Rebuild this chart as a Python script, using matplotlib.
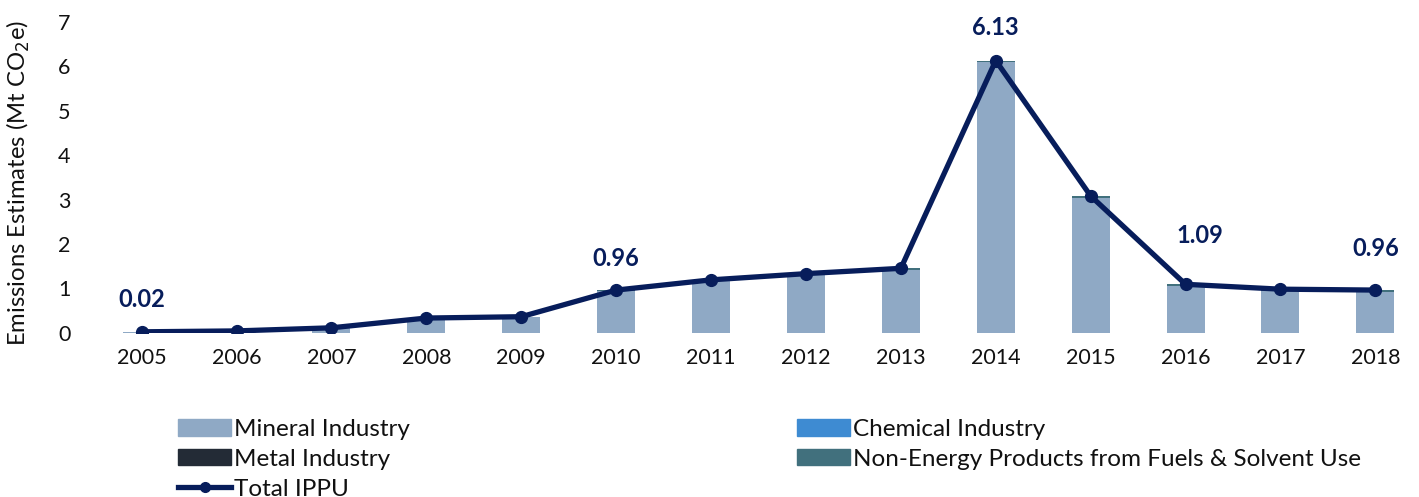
import matplotlib
matplotlib.use("Agg")
import matplotlib.pyplot as plt
from matplotlib.patches import Patch
from matplotlib.lines import Line2D

plt.rcParams['font.family'] = ['Lato', 'DejaVu Sans']

years = ['2005', '2006', '2007', '2008', '2009', '2010', '2011',
         '2012', '2013', '2014', '2015', '2016', '2017', '2018']
mineral = [0.02, 0.04, 0.10, 0.32, 0.35, 0.93, 1.16, 1.30, 1.41, 6.09, 3.04, 1.05, 0.95, 0.92]
chemical = [0.0] * 14
metal = [0.0] * 14
non_energy = [0.0, 0.0, 0.01, 0.01, 0.01, 0.03, 0.03, 0.03, 0.04, 0.04, 0.04, 0.04, 0.03, 0.04]
total_ippu = [0.02, 0.04, 0.11, 0.33, 0.36, 0.96, 1.19, 1.33, 1.45, 6.13, 3.08, 1.09, 0.98, 0.96]
labelled = ['2005', '2010', '2014', '2016', '2018']

c_mineral = '#8FA9C5'
c_chemical = '#3E8BD2'
c_metal = '#232B36'
c_non_energy = '#41707D'
c_total = '#071D5B'

fig = plt.figure(figsize=(14.19, 4.97), dpi=100)
ax = fig.add_axes([0.0664, 0.3306, 0.9336, 0.6253])

x = list(range(len(years)))
w = 0.4
bottom = [0.0] * len(years)
for vals, col in [(mineral, c_mineral), (chemical, c_chemical),
                  (metal, c_metal), (non_energy, c_non_energy)]:
    ax.bar(x, vals, w, bottom=bottom, color=col, zorder=2)
    bottom = [b + v for b, v in zip(bottom, vals)]

ax.plot(x, total_ippu, color=c_total, lw=3.8, marker='o', ms=8.5, zorder=3,
        solid_joinstyle='round')

offsets = {'2005': (0, 23), '2010': (0, 23), '2014': (0, 24),
           '2016': (10, 35), '2018': (0, 30)}
for yr in labelled:
    i = years.index(yr)
    ax.annotate(f'{total_ippu[i]:.2f}', (i, total_ippu[i]),
                xytext=offsets[yr], textcoords='offset points',
                ha='center', va='center', fontsize=17, fontweight='bold',
                color=c_total)

ax.set_xlim(-0.5, 13.46)
ax.set_ylim(0, 7)
ax.set_yticks(range(0, 8))
ax.set_xticks(x)
ax.set_xticklabels(years)
ax.tick_params(axis='both', length=0, labelsize=15.5, colors='#111111')
ax.tick_params(axis='y', pad=17)
ax.tick_params(axis='x', pad=11)
for s in ax.spines.values():
    s.set_visible(False)

fig.text(18 / 1419, 0.633, 'Emissions Estimates (Mt CO$_2$e)', rotation=90,
         ha='center', va='center', fontsize=17.2, color='#111111')

h_min = Patch(color=c_mineral)
h_chem = Patch(color=c_chemical)
h_met = Patch(color=c_metal)
h_non = Patch(color=c_non_energy)
h_tot = Line2D([], [], color=c_total, lw=3.8, marker='o', ms=7)

leg_kw = dict(frameon=False, fontsize=17.5, handlelength=2.2, handleheight=0.65,
              handletextpad=0.12, labelspacing=0.36, borderpad=0, borderaxespad=0,
              loc='upper left')
leg1 = fig.legend([h_min, h_met, h_tot],
                  ['Mineral Industry', 'Metal Industry', 'Total IPPU'],
                  bbox_to_anchor=(178 / 1419, 1 - 419 / 497), **leg_kw)
leg2 = fig.legend([h_chem, h_non],
                  ['Chemical Industry', 'Non-Energy Products from Fuels & Solvent Use'],
                  bbox_to_anchor=(797 / 1419, 1 - 419 / 497), **leg_kw)
for leg in (leg1, leg2):
    for t in leg.get_texts():
        t.set_color('#111111')

fig.savefig('out.png', dpi=100)
